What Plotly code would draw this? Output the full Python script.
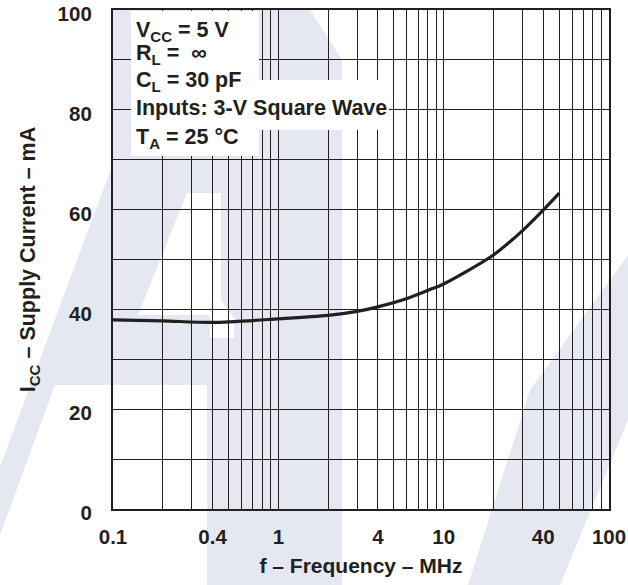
import plotly.graph_objects as go

# ---- data ----
freq_mhz = [0.1, 0.2, 0.4, 1, 2, 3, 4, 6, 8, 10, 20, 30, 40, 50]
icc_ma = [37.9, 37.7, 37.4, 38.1, 38.8, 39.6, 40.5, 42.2, 43.8, 45.1, 50.9, 55.8, 59.9, 63.3]

x_tickvals = [0.1, 0.4, 1, 4, 10, 40, 100]
x_ticktext = ["0.1", "0.4", "1", "4", "10", "40", "100"]
x_minor_grid = [0.2, 0.3, 0.5, 0.6, 0.7, 0.8, 0.9,
                2, 3, 5, 6, 7, 8, 9,
                20, 30, 50, 60, 70, 80, 90]
y_tickvals = [0, 20, 40, 60, 80, 100]

cond_lines = [
    "V<sub>CC</sub> = 5 V",
    "R<sub>L</sub> =  \u221e",
    "C<sub>L</sub> = 30 pF",
    "Inputs: 3-V Square Wave",
    "T<sub>A</sub> = 25 \u00b0C",
]

W, H = 628, 585
L, R, T, B = 113, 19, 10, 76
PW, PH = W - L - R, H - T - B


def px(x):
    return (x - L) / PW


def py(y):
    return (H - B - y) / PH


def path(points):
    return "M " + " L ".join(f"{px(a):.4f},{py(b):.4f}" for a, b in points) + " Z"


FONT = "Liberation Sans, Arial, sans-serif"
INK = "#231f20"
WM = "#e5e8f1"

fig = go.Figure()
fig.add_trace(go.Scatter(
    x=freq_mhz, y=icc_ma, mode="lines",
    line=dict(color=INK, width=3.2, shape="spline", smoothing=0.8),
    showlegend=False, hoverinfo="skip",
))

shapes = []
# faint watermark
wm_polys = [
    [(0, 467), (118, 150), (118, 385), (55, 385), (0, 535)],
    [(113, 10), (310, 10), (342, 60), (342, 585), (207, 585), (207, 385), (113, 385)],
    [(468, 585), (530, 390), (628, 255), (628, 420), (560, 585)],
]
for poly in wm_polys:
    shapes.append(dict(type="path", xref="paper", yref="paper", path=path(poly),
                       fillcolor=WM, line=dict(width=0), layer="below"))
# white stripe inside watermark
shapes.append(dict(type="path", xref="paper", yref="paper",
                   path=path([(138, 315), (187, 193), (221, 193), (221, 300), (234, 318),
                              (234, 338), (210, 338), (210, 315)]),
                   fillcolor="white", line=dict(width=0), layer="below"))
# white boxes behind the condition text
shapes.append(dict(type="rect", xref="paper", yref="paper",
                   x0=px(131), x1=px(259), y0=py(156), y1=py(11),
                   fillcolor="white", line=dict(width=0), layer="above"))
shapes.append(dict(type="rect", xref="paper", yref="paper",
                   x0=px(131), x1=px(389), y0=py(130), y1=py(80),
                   fillcolor="white", line=dict(width=0), layer="above"))

annotations = []
row_y = [31, 55, 81, 108, 138]
for txt, yy in zip(cond_lines, row_y):
    annotations.append(dict(
        text="<b>" + txt + "</b>", xref="paper", yref="paper", x=px(134), y=py(yy),
        xanchor="left", yanchor="middle", showarrow=False,
        font=dict(family=FONT, size=21.5, color=INK),
    ))

fig.update_layout(
    width=W, height=H,
    margin=dict(l=L, r=R, t=T, b=B, pad=0, autoexpand=False),
    paper_bgcolor="white",
    plot_bgcolor="rgba(0,0,0,0)",
    font=dict(family=FONT, size=20, color=INK),
    shapes=shapes,
    annotations=annotations,
    showlegend=False,
)

fig.update_xaxes(
    type="log", range=[-1, 2], automargin=False, ticklabeloverflow="allow",
    tickmode="array", tickvals=x_tickvals,
    ticktext=[f"<b>{t}</b>" for t in x_ticktext],
    showgrid=True, gridcolor=INK, gridwidth=1.2,
    minor=dict(tickmode="array", tickvals=x_minor_grid, showgrid=True,
               gridcolor=INK, gridwidth=1.2, ticks=""),
    ticks="", ticklabelstandoff=8,
    tickfont=dict(family=FONT, size=20.5, color=INK),
    showline=True, linecolor=INK, linewidth=2.2, mirror=True,
    zeroline=False,
    title=dict(text="<b>f \u2013 Frequency \u2013 MHz</b>", standoff=12,
               font=dict(family=FONT, size=21, color=INK)),
)
fig.update_yaxes(
    range=[0, 100], automargin=False, ticklabeloverflow="allow",
    tickmode="array", tickvals=y_tickvals,
    ticktext=[f"<b>{v}</b>" for v in y_tickvals],
    showgrid=True, gridcolor=INK, gridwidth=1.2,
    minor=dict(dtick=10, showgrid=True, gridcolor=INK, gridwidth=1.2, ticks=""),
    ticks="", ticklabelstandoff=15, ticklabelshift=4,
    tickfont=dict(family=FONT, size=20.5, color=INK),
    showline=True, linecolor=INK, linewidth=2.2, mirror=True,
    zeroline=False,
    title=dict(text="<b>I<sub>CC</sub> \u2013 Supply Current \u2013 mA</b>", standoff=16,
               font=dict(family=FONT, size=21.5, color=INK)),
)

fig.write_html(
    "out.html",
    config={"displayModeBar": False},
    post_script="document.body.style.margin='0';document.body.style.overflow='hidden';",
)
